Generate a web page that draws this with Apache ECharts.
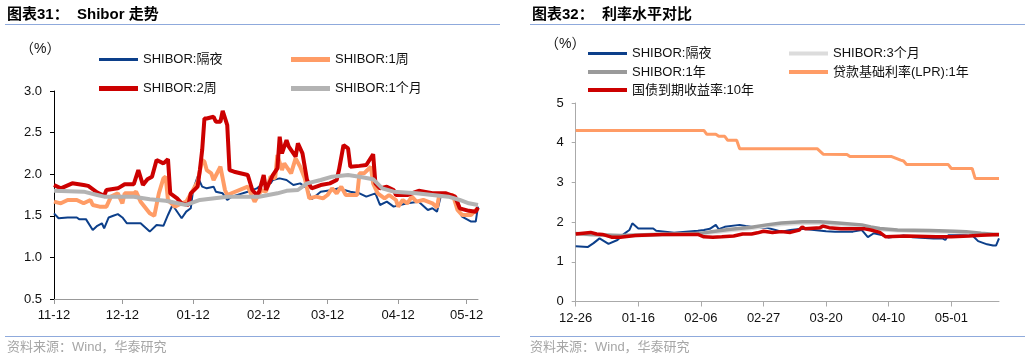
<!DOCTYPE html>
<html><head><meta charset="utf-8">
<script src="https://cdn.jsdelivr.net/npm/echarts@6/dist/echarts.min.js"></script>
<style>html,body{margin:0;padding:0;background:#fff}#c{width:1030px;height:362px}</style>
</head><body><div id="c"></div>
<script>
// ---------- Tick labels ----------
const leftTicks = ['11-12','12-12','01-12','02-12','03-12','04-12','05-12'];
const rightTicks = ['12-26','01-16','02-06','02-27','03-20','04-10','05-01'];

// ---------- Chart 31 data (%), [date, value] ----------
const shiborON_L = [['11-12',1.53],['11-14',1.47],['11-18',1.48],['11-22',1.48],['11-23',1.46],['11-26',1.46],['11-29',1.33],['12-01',1.38],['12-03',1.41],['12-04',1.35],['12-06',1.48],['12-08',1.50],['12-10',1.52],['12-12',1.48],['12-14',1.41],['12-20',1.41],['12-24',1.31],['12-27',1.39],['12-30',1.38],['01-01',1.51],['01-03',1.63],['01-07',1.47],['01-09',1.55],['01-11',1.59],['01-12',1.81],['01-14',1.97],['01-16',1.85],['01-18',1.83],['01-21',1.85],['01-22',1.79],['01-25',1.77],['01-27',1.69],['01-29',1.73],['02-05',1.79],['02-09',1.83],['02-12',1.89],['02-15',1.89],['02-16',1.93],['02-19',1.95],['02-22',1.93],['02-25',1.87],['02-28',1.89],['03-03',1.83],['03-05',1.70],['03-09',1.79],['03-14',1.81],['03-17',1.83],['03-22',1.79],['03-26',1.77],['03-29',1.73],['04-02',1.77],['04-04',1.63],['04-07',1.67],['04-10',1.61],['04-16',1.65],['04-21',1.67],['04-25',1.57],['04-27',1.59],['04-29',1.55],['05-01',1.77],['05-07',1.73],['05-08',1.61],['05-10',1.49],['05-14',1.43],['05-16',1.43],['05-17',1.61]];
const shibor1W = [['11-12',1.67],['11-15',1.65],['11-18',1.69],['11-22',1.69],['11-25',1.65],['11-28',1.69],['11-29',1.63],['12-02',1.61],['12-05',1.61],['12-07',1.73],['12-10',1.77],['12-12',1.65],['12-13',1.77],['12-17',1.77],['12-18',1.79],['12-20',1.67],['12-24',1.53],['12-26',1.50],['12-28',1.77],['12-30',1.95],['12-31',1.97],['01-01',1.69],['01-04',1.61],['01-07',1.65],['01-09',1.67],['01-12',1.81],['01-14',1.91],['01-16',2.17],['01-17',2.15],['01-18',2.05],['01-20',2.01],['01-21',1.93],['01-24',2.09],['01-26',1.81],['01-27',1.75],['02-05',1.85],['02-08',1.67],['02-11',1.81],['02-13',1.79],['02-15',1.97],['02-17',1.95],['02-18',2.23],['02-20',2.05],['02-21',2.13],['02-24',2.01],['02-26',2.19],['02-28',2.09],['03-02',1.95],['03-04',1.71],['03-07',1.73],['03-10',1.71],['03-12',1.75],['03-14',1.83],['03-16',1.77],['03-18',1.85],['03-20',1.75],['03-22',1.75],['03-25',1.75],['03-26',2.01],['03-28',2.01],['03-31',2.09],['04-01',1.89],['04-03',1.77],['04-06',1.71],['04-08',1.75],['04-11',1.69],['04-12',1.61],['04-14',1.69],['04-16',1.65],['04-18',1.73],['04-20',1.67],['04-23',1.69],['04-25',1.67],['04-27',1.65],['04-29',1.60],['04-30',1.75],['05-06',1.75],['05-08',1.57],['05-10',1.51],['05-14',1.51],['05-16',1.57],['05-17',1.58]];
const shibor2W = [['11-12',1.87],['11-15',1.83],['11-20',1.89],['11-25',1.87],['11-27',1.86],['12-01',1.78],['12-04',1.74],['12-05',1.81],['12-10',1.83],['12-13',1.88],['12-17',1.88],['12-19',2.05],['12-21',1.87],['12-23',1.94],['12-25',1.97],['12-27',2.17],['12-30',2.13],['01-01',2.18],['01-02',1.77],['01-05',1.71],['01-07',1.65],['01-10',1.63],['01-11',1.77],['01-14',1.85],['01-15',2.05],['01-16',2.29],['01-17',2.67],['01-18',2.67],['01-21',2.69],['01-22',2.63],['01-24',2.63],['01-25',2.76],['01-27',2.59],['01-28',2.05],['01-30',2.03],['02-05',1.99],['02-07',1.81],['02-09',1.75],['02-10',1.79],['02-12',1.99],['02-13',1.81],['02-16',1.99],['02-18',2.07],['02-19',2.45],['02-20',2.25],['02-22',2.41],['02-23',2.33],['02-26',2.21],['02-27',2.37],['03-01',2.25],['03-03',1.93],['03-05',1.83],['03-09',1.87],['03-13',1.89],['03-16',1.93],['03-17',2.05],['03-19',2.35],['03-21',2.31],['03-22',2.09],['03-26',2.10],['03-29',2.11],['04-01',2.24],['04-02',1.89],['04-04',1.83],['04-07',1.85],['04-10',1.81],['04-11',1.75],['04-16',1.75],['04-21',1.80],['04-27',1.77],['05-03',1.77],['05-07',1.73],['05-09',1.59],['05-13',1.56],['05-16',1.55],['05-17',1.60]];
const shibor1M = [['11-12',1.80],['11-25',1.79],['12-01',1.75],['12-04',1.73],['12-17',1.73],['12-24',1.70],['12-31',1.68],['01-09',1.63],['01-15',1.69],['01-27',1.73],['02-10',1.73],['02-18',1.77],['02-22',1.80],['02-27',1.81],['03-03',1.89],['03-09',1.93],['03-14',1.97],['03-21',1.99],['03-26',1.97],['04-01',1.94],['04-05',1.83],['04-10',1.79],['04-20',1.77],['04-27',1.75],['05-04',1.73],['05-09',1.69],['05-13',1.65],['05-17',1.63]];

// ---------- Chart 32 data (%), [date, value] ----------
const shiborON_R = [['12-26',1.39],['12-30',1.37],['01-01',1.47],['01-03',1.59],['01-06',1.45],['01-09',1.55],['01-11',1.69],['01-13',1.80],['01-14',1.97],['01-16',1.84],['01-21',1.84],['01-22',1.78],['01-25',1.76],['01-28',1.73],['02-05',1.78],['02-07',1.80],['02-09',1.83],['02-11',1.93],['02-12',1.82],['02-14',1.88],['02-19',1.93],['02-21',1.90],['02-25',1.86],['02-28',1.86],['03-03',1.80],['03-05',1.76],['03-08',1.80],['03-12',1.83],['03-20',1.77],['03-23',1.76],['03-29',1.76],['04-01',1.80],['04-03',1.62],['04-05',1.72],['04-08',1.67],['04-10',1.61],['04-15',1.66],['04-18',1.62],['04-25',1.59],['04-28',1.59],['04-29',1.55],['04-30',1.67],['05-08',1.67],['05-10',1.52],['05-13',1.44],['05-15',1.41],['05-16',1.41],['05-17',1.59]];
const shibor3M = [['12-26',1.70],['12-31',1.68],['01-10',1.65],['01-18',1.66],['01-27',1.68],['02-05',1.70],['02-12',1.75],['02-16',1.79],['02-23',1.84],['02-28',1.90],['03-05',1.94],['03-12',1.97],['03-18',1.97],['03-24',1.94],['04-01',1.90],['04-04',1.85],['04-07',1.81],['04-13',1.78],['04-24',1.76],['05-02',1.75],['05-06',1.74],['05-11',1.70],['05-17',1.67]];
const shibor1Y = [['12-26',1.71],['12-31',1.69],['01-10',1.66],['01-18',1.68],['01-27',1.70],['02-05',1.71],['02-12',1.78],['02-16',1.82],['02-23',1.87],['02-28',1.93],['03-05',1.98],['03-12',2.01],['03-18',2.01],['03-24',1.98],['04-01',1.93],['04-04',1.88],['04-07',1.84],['04-13',1.80],['04-24',1.79],['05-02',1.77],['05-06',1.76],['05-11',1.72],['05-17',1.68]];
const lpr1Y = [['12-26',4.31],['02-07',4.31],['02-08',4.21],['02-11',4.21],['02-12',4.16],['02-14',4.16],['02-15',4.06],['02-18',4.06],['02-19',3.85],['03-17',3.85],['03-19',3.71],['03-27',3.70],['03-28',3.65],['04-11',3.65],['04-14',3.56],['04-15',3.54],['04-16',3.45],['04-30',3.45],['05-01',3.35],['05-08',3.35],['05-09',3.10],['05-17',3.10]];
const cgb10Y = [['12-26',1.70],['12-31',1.74],['01-02',1.70],['01-04',1.69],['01-07',1.62],['01-10',1.62],['01-15',1.66],['01-24',1.69],['02-05',1.69],['02-07',1.63],['02-10',1.62],['02-13',1.63],['02-17',1.65],['02-20',1.70],['02-23',1.70],['02-25',1.73],['02-27',1.77],['03-02',1.74],['03-05',1.76],['03-08',1.74],['03-11',1.80],['03-12',1.88],['03-13',1.83],['03-18',1.86],['03-19',1.90],['03-21',1.86],['03-25',1.83],['04-02',1.83],['04-04',1.80],['04-07',1.74],['04-09',1.63],['04-16',1.65],['04-26',1.63],['05-01',1.63],['05-07',1.65],['05-11',1.67],['05-17',1.69]];

// ---------- calendar-day categories ----------
function dayList(start, end) {
  const out = [];
  let t = Date.parse(start + 'T00:00:00Z');
  const e = Date.parse(end + 'T00:00:00Z');
  while (t <= e) {
    const d = new Date(t);
    out.push(String(d.getUTCMonth() + 1).padStart(2, '0') + '-' + String(d.getUTCDate()).padStart(2, '0'));
    t += 86400000;
  }
  return out;
}
const leftDays = dayList('2024-11-12', '2025-05-17');
const rightDays = dayList('2024-12-26', '2025-05-17');

const FONT = '"Liberation Sans","Noto Sans CJK SC",sans-serif';
const C = { navy:'#0c3f8a', orange:'#ff9c66', red:'#cc0000', gray:'#b3b3b3', dgray:'#9a9a9a', lgray:'#dcdcdc' };

const chart = echarts.init(document.getElementById('c'), null, { renderer: 'canvas' });

function legendItem(name, left, cy, h) {
  return { data: [name], left: left, top: cy - 7, padding: 0, itemWidth: 39, itemHeight: h, icon: 'rect',
    itemGap: 5, selectedMode: false, textStyle: { fontFamily: FONT, fontSize: 13, color: '#111' } };
}
function line(name, data, color, width, xi, z) {
  return { name: name, type: 'line', data: data, xAxisIndex: xi, yAxisIndex: xi, showSymbol: false, symbol: 'none',
    color: color, lineStyle: { color: color, width: width }, z: z, animation: false };
}

const option = {
  animation: false,
  grid: [
    { left: 54, top: 91, width: 424, height: 208 },
    { left: 575.7, top: 103, width: 423.3, height: 198.5 }
  ],
  xAxis: [
    { type: 'category', gridIndex: 0, data: leftDays, boundaryGap: false,
      axisLine: { lineStyle: { color: '#999', width: 1 } },
      axisTick: { interval: (i, v) => leftTicks.indexOf(v) >= 0, length: 5, lineStyle: { color: '#999' } },
      axisLabel: { interval: (i, v) => leftTicks.indexOf(v) >= 0, margin: 10, color: '#111', fontSize: 13, fontFamily: FONT },
      splitLine: { show: false } },
    { type: 'category', gridIndex: 1, data: rightDays, boundaryGap: false,
      axisLine: { lineStyle: { color: '#aaa', width: 1 } },
      axisTick: { interval: (i, v) => rightTicks.indexOf(v) >= 0, length: 5, lineStyle: { color: '#aaa' } },
      axisLabel: { interval: (i, v) => rightTicks.indexOf(v) >= 0, margin: 10, color: '#111', fontSize: 13, fontFamily: FONT },
      splitLine: { show: false } }
  ],
  yAxis: [
    { type: 'value', gridIndex: 0, min: 0.5, max: 3.0, interval: 0.5,
      axisLine: { show: true, lineStyle: { color: '#000' } },
      axisTick: { show: true, length: 4, lineStyle: { color: '#000' } },
      axisLabel: { margin: 12, color: '#111', fontSize: 13, fontFamily: FONT, formatter: v => v.toFixed(1) },
      splitLine: { show: false } },
    { type: 'value', gridIndex: 1, min: 0, max: 5, interval: 1,
      axisLine: { show: true, lineStyle: { color: '#aaa' } },
      axisTick: { show: true, length: 4, lineStyle: { color: '#aaa' } },
      axisLabel: { margin: 12, color: '#111', fontSize: 13, fontFamily: FONT },
      splitLine: { show: false } }
  ],
  legend: [
    legendItem('SHIBOR:隔夜', 99, 60, 3),
    legendItem('SHIBOR:1周', 291, 60, 5),
    legendItem('SHIBOR:2周', 99, 89, 5),
    legendItem('SHIBOR:1个月', 291, 89, 5),
    legendItem('SHIBOR:隔夜 ', 588, 54, 3),
    legendItem('SHIBOR:3个月', 789, 54, 4),
    legendItem('SHIBOR:1年', 588, 72.5, 4),
    legendItem('贷款基础利率(LPR):1年', 789, 72.5, 4),
    legendItem('国债到期收益率:10年', 588, 90.5, 4)
  ],
  series: [
    line('SHIBOR:隔夜', shiborON_L, C.navy, 2, 0, 2),
    line('SHIBOR:1周', shibor1W, C.orange, 4, 0, 3),
    line('SHIBOR:2周', shibor2W, C.red, 4, 0, 4),
    line('SHIBOR:1个月', shibor1M, C.gray, 4, 0, 5),
    line('SHIBOR:隔夜 ', shiborON_R, C.navy, 2, 1, 2),
    line('SHIBOR:3个月', shibor3M, C.lgray, 3.5, 1, 3),
    line('SHIBOR:1年', shibor1Y, C.dgray, 3.5, 1, 4),
    line('贷款基础利率(LPR):1年', lpr1Y, C.orange, 3, 1, 5),
    line('国债到期收益率:10年', cgb10Y, C.red, 3.5, 1, 6)
  ],
  graphic: [
    { type: 'text', left: 7, top: 7, style: { text: '图表31：  Shibor 走势', font: 'bold 15px ' + FONT, fill: '#000' } },
    { type: 'line', shape: { x1: 5, y1: 24.5, x2: 500, y2: 24.5 }, style: { stroke: '#8faadc', lineWidth: 1 } },
    { type: 'text', left: 20, top: 42, style: { text: '（%）', font: '14px ' + FONT, fill: '#111' } },
    { type: 'line', shape: { x1: 5, y1: 336.5, x2: 500, y2: 336.5 }, style: { stroke: '#8faadc', lineWidth: 1 } },
    { type: 'text', left: 7, top: 341, style: { text: '资料来源：Wind，华泰研究', font: '13px ' + FONT, fill: '#a6a6a6' } },

    { type: 'text', left: 532, top: 7, style: { text: '图表32：  利率水平对比', font: 'bold 15px ' + FONT, fill: '#000' } },
    { type: 'line', shape: { x1: 530, y1: 24.5, x2: 1025, y2: 24.5 }, style: { stroke: '#8faadc', lineWidth: 1 } },
    { type: 'text', left: 545, top: 37, style: { text: '（%）', font: '14px ' + FONT, fill: '#111' } },
    { type: 'line', shape: { x1: 530, y1: 336.5, x2: 1025, y2: 336.5 }, style: { stroke: '#8faadc', lineWidth: 1 } },
    { type: 'text', left: 530, top: 341, style: { text: '资料来源：Wind，华泰研究', font: '13px ' + FONT, fill: '#a6a6a6' } }
  ]
};
chart.setOption(option);
</script>
</body></html>
